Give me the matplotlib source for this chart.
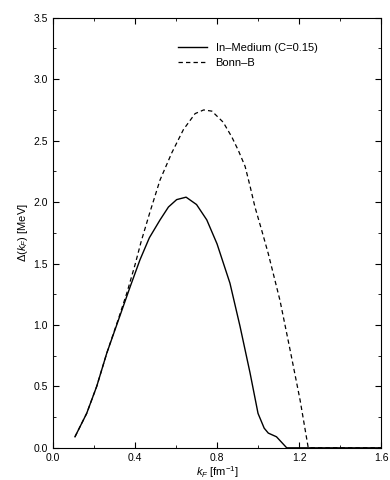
import matplotlib
matplotlib.use("Agg")
import matplotlib.pyplot as plt
from matplotlib.ticker import MultipleLocator, FormatStrFormatter

plt.rcParams['font.family'] = ['Liberation Sans', 'DejaVu Sans']
plt.rcParams['mathtext.fontset'] = 'custom'
plt.rcParams['mathtext.rm'] = 'Liberation Sans'
plt.rcParams['mathtext.it'] = 'Liberation Sans:italic'

# In-Medium (C=0.15)
k_med = [0.107, 0.164, 0.213, 0.262, 0.319, 0.376, 0.424, 0.47, 0.522, 0.563,
         0.603, 0.649, 0.70, 0.75, 0.80, 0.863, 0.912, 0.961, 1.00, 1.03,
         1.05, 1.09, 1.14, 1.6]
d_med = [0.09, 0.28, 0.50, 0.77, 1.04, 1.31, 1.53, 1.71, 1.855, 1.96,
         2.02, 2.04, 1.98, 1.855, 1.66, 1.34, 0.99, 0.61, 0.28, 0.16,
         0.12, 0.09, 0.0, 0.0]

# Bonn-B
k_bonn = [0.107, 0.164, 0.213, 0.262, 0.319, 0.36, 0.40, 0.43, 0.473, 0.522,
          0.579, 0.636, 0.693, 0.735, 0.775, 0.83, 0.872, 0.904, 0.937, 0.961,
          0.985, 1.018, 1.05, 1.107, 1.156, 1.205, 1.245, 1.6]
d_bonn = [0.09, 0.28, 0.50, 0.77, 1.05, 1.26, 1.49, 1.68, 1.92, 2.18,
          2.40, 2.59, 2.72, 2.75, 2.74, 2.65, 2.53, 2.42, 2.29, 2.13,
          1.96, 1.77, 1.58, 1.20, 0.80, 0.39, 0.0, 0.0]

fig = plt.figure(figsize=(3.9, 4.8), dpi=100)
ax = fig.add_axes([0.136, 0.067, 0.841, 0.896])

ax.plot(k_med, d_med, color='black', lw=1.0, label='In\u2013Medium (C=0.15)')
ax.plot(k_bonn, d_bonn, color='black', lw=0.9, ls=(0, (3.5, 2.5)), label='Bonn\u2013B')

ax.set_xlim(0.0, 1.6)
ax.set_ylim(0.0, 3.5)
ax.xaxis.set_major_locator(MultipleLocator(0.4))
ax.xaxis.set_minor_locator(MultipleLocator(0.2))
ax.yaxis.set_major_locator(MultipleLocator(0.5))
ax.yaxis.set_minor_locator(MultipleLocator(0.25))
ax.xaxis.set_major_formatter(FormatStrFormatter('%.1f'))
ax.yaxis.set_major_formatter(FormatStrFormatter('%.1f'))
ax.tick_params(which='both', direction='in', top=True, right=True, labelsize=7.5)
ax.tick_params(which='major', length=4)
ax.tick_params(which='minor', length=2)

ax.set_xlabel(r'$k_F$ [fm$^{-1}$]', fontsize=8, labelpad=1)
ax.set_ylabel(r'$\Delta(k_F)$ [MeV]', fontsize=8, labelpad=3)

ax.legend(loc='upper right', frameon=False, fontsize=8, handlelength=2.6,
          bbox_to_anchor=(0.83, 0.96), borderaxespad=0.3, labelspacing=0.5)

fig.savefig('out.png', dpi=100)
